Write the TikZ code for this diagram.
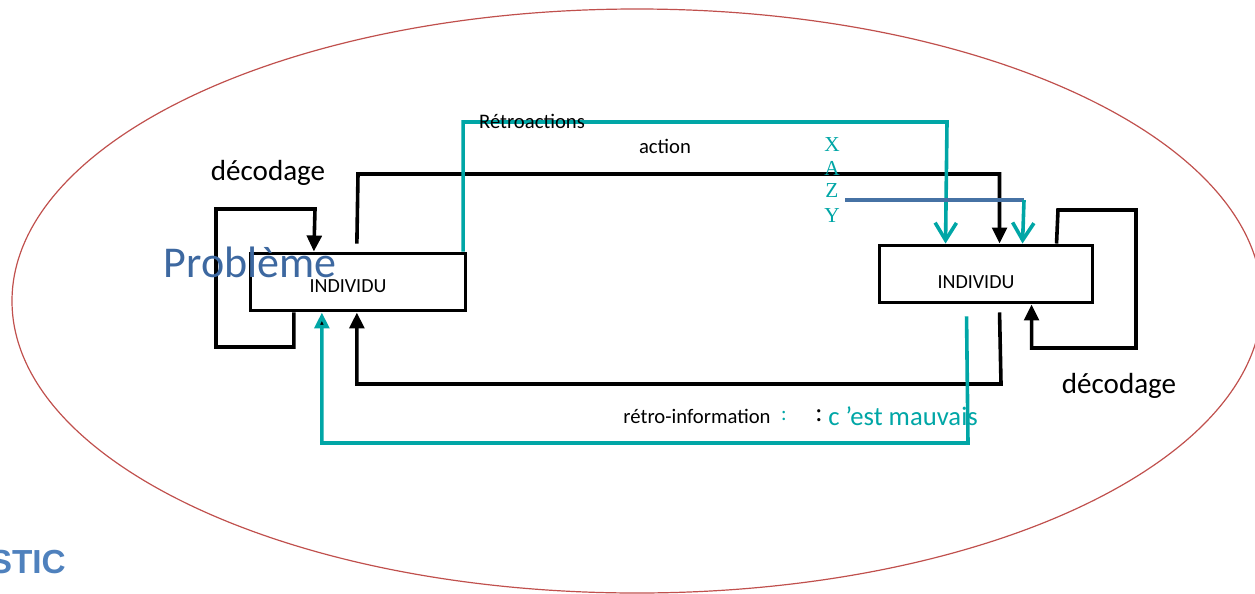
\documentclass[tikz,border=0pt]{standalone}
\usepackage{fontspec}
\setmainfont{Carlito}
\newfontfamily\timesfont{Liberation Serif}
\newfontfamily\arialfont{Liberation Sans}
\usetikzlibrary{arrows.meta,calc}
\definecolor{tealline}{RGB}{0,166,166}
\definecolor{blueline}{RGB}{70,114,164}
\definecolor{probblue}{RGB}{61,104,160}
\definecolor{sticblue}{RGB}{79,129,189}
\definecolor{ovalred}{RGB}{192,80,77}
\tikzset{
  indbox/.style={draw,line width=2.7pt,minimum width=161pt,minimum height=43pt,inner sep=0pt},
  blkline/.style={line width=2.7pt,line join=miter},
  blkarrow/.style={blkline,-{Triangle[length=12pt,width=11pt]}},
  tealline/.style={color=tealline,line width=2.7pt},
  tealarrow/.style={tealline,-{Straight Barb[length=13pt,width=16pt,line width=2.7pt]}},
  lbl/.style={inner sep=0pt,anchor=center}
}
\begin{document}
\begin{tikzpicture}[x=0.75pt,y=0.75pt,yscale=-1,xscale=1]
\clip (0,0) rectangle (1255,593);
\useasboundingbox (0,0) rectangle (1255,593);
%Shape: Ellipse
\draw [color=ovalred,line width=0.9pt] (637,301) ellipse [x radius=625,y radius=292];
%Shape: Rectangle
\node [indbox] (indL) at (358,282) {};
%Shape: Rectangle
\node [indbox,minimum width=160pt] (indR) at (986,274) {};
%Straight Lines (left decodage loop)
\draw [blkarrow] ($(indL.south west)+(45,0)$) |- (216,347) |- (315,209) -- ($(indL.north west)+(65,0)$);
%Straight Lines (action)
\draw [blkarrow] ($(indL.north west)+(108,-8)$) -- (358,174) -| ($(indR.north west)+(122,0)$);
%Straight Lines (retour)
\draw [blkarrow] ($(indR.south west)+(122,8)$) -- (1001,384) -| ($(indL.south west)+(108,0)$);
%Straight Lines (right decodage loop)
\draw [blkarrow] ($(indR.north west)+(179,0)$) -- (1058,210) -| (1136,348) -| ($(indR.south west)+(154,0)$);
%Straight Lines (retroactions)
\draw [tealarrow] ($(indL.north east)+(-4,0)$) |- (947,122) -- ($(indR.north west)+(68,0)$);
%Straight Lines (Z Y)
\coordinate (zy) at (845,200);
\coordinate (zyturn) at (1024,200);
\draw [color=blueline,line width=3pt] (zy) -- (zyturn);
\draw [tealarrow] (zyturn) -- ($(indR.north west)+(145,0)$);
%Straight Lines (retro-information)
\draw [tealline,-{Triangle[length=12pt,width=11pt,fill=black]}] ($(indR.south west)+(89,12)$) -- (968,443) -| ($(indL.south west)+(73,0)$);
% Text Node
\node [lbl] (decL) at (268,173) {\fontsize{21.8}{24}\selectfont décodage};
% Text Node
\node [lbl,text=probblue] (prob) at (250,262) {\fontsize{33}{36}\selectfont Problème};
% Text Node
\node [lbl] (txtL) at (348,286) {\fontsize{15}{17}\selectfont INDIVIDU};
% Text Node
\node [lbl] (txtR) at (976,282) {\fontsize{15}{17}\selectfont INDIVIDU};
% Text Node
\node [lbl] (act) at (665,146) {\fontsize{15.5}{17}\selectfont action};
% Text Node
\node [lbl] (retro) at (532,121) {\fontsize{15.5}{17}\selectfont Rétroactions};
% Text Node
\node [lbl,text=tealline] (lx) at (832,145) {\timesfont\fontsize{16}{18}\selectfont X};
\node [lbl,text=tealline] (la) at (832,168) {\timesfont\fontsize{16}{18}\selectfont A};
\node [lbl,text=tealline] (lz) at (832,191) {\timesfont\fontsize{16}{18}\selectfont Z};
\node [lbl,text=tealline] (ly) at (832,216) {\timesfont\fontsize{16}{18}\selectfont Y};
% Text Node
\node [lbl] (decR) at (1119,386) {\fontsize{21.8}{24}\selectfont décodage};
% Text Node
\node [lbl] (rinfo) at (697,416) {\fontsize{15.5}{17}\selectfont rétro-information};
\node [lbl,text=tealline] (rcol) at (784,416) {\fontsize{15.5}{17}\selectfont :};
% Text Node
\node [lbl] (mcol) at (819,416) {\fontsize{20}{22}\selectfont :};
\node [lbl,text=tealline] (mauv) at (903,416) {\fontsize{20}{22}\selectfont c ’est mauvais};
% Text Node
\node [lbl,anchor=east,text=sticblue] (stic) at (66,562) {\arialfont\bfseries\fontsize{25}{28}\selectfont STIC};
\end{tikzpicture}
\end{document}
